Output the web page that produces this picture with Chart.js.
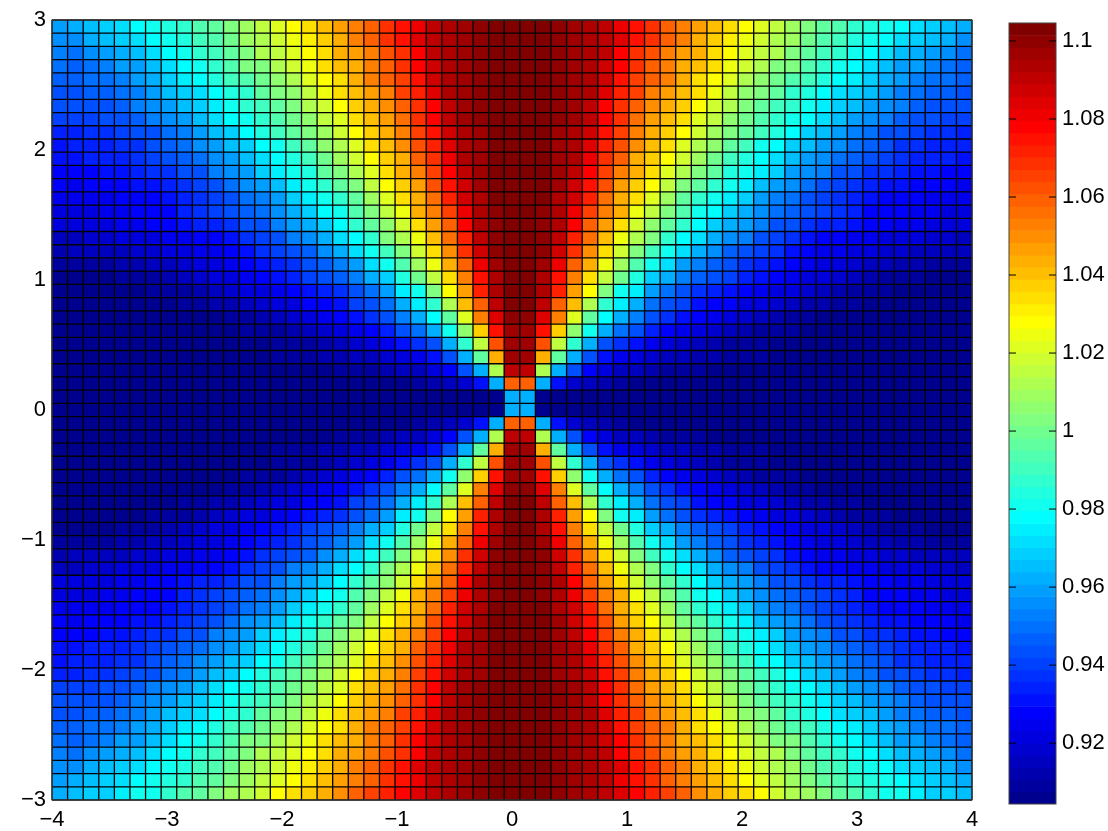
<!DOCTYPE html>
<html>
<head>
<meta charset="utf-8">
<style>
    body { margin: 0; background: #fff; }
    canvas { position: absolute; top: 0; }
</style>
<script src="https://cdn.jsdelivr.net/npm/chart.js@4/dist/chart.umd.js"></script>
</head>
<body>
<canvas id="field-chart" width="990" height="831" style="left:0"></canvas>
<canvas id="colorbar-chart" width="118" height="831" style="left:990px"></canvas>
<script>
// cell edges of the pcolor grid
const xEdges = [-4, -3.8644, -3.7288, -3.5932, -3.4576, -3.3220, -3.1864, -3.0508, -2.9153, -2.7797, -2.6441, -2.5085, -2.3729, -2.2373, -2.1017, -1.9661, -1.8305, -1.6949, -1.5593, -1.4237, -1.2881, -1.1525, -1.0169, -0.8814, -0.7458, -0.6102, -0.4746, -0.3390, -0.2034, -0.0678,
    0.0678, 0.2034, 0.3390, 0.4746, 0.6102, 0.7458, 0.8814, 1.0169, 1.1525, 1.2881, 1.4237, 1.5593, 1.6949, 1.8305, 1.9661, 2.1017, 2.2373, 2.3729, 2.5085, 2.6441, 2.7797, 2.9153, 3.0508, 3.1864, 3.3220, 3.4576, 3.5932, 3.7288, 3.8644, 4];
const yEdges = [-3, -2.8983, -2.7966, -2.6949, -2.5932, -2.4915, -2.3898, -2.2881, -2.1864, -2.0847, -1.9831, -1.8814, -1.7797, -1.6780, -1.5763, -1.4746, -1.3729, -1.2712, -1.1695, -1.0678, -0.9661, -0.8644, -0.7627, -0.6610, -0.5593, -0.4576, -0.3559, -0.2542, -0.1525, -0.0508,
    0.0508, 0.1525, 0.2542, 0.3559, 0.4576, 0.5593, 0.6610, 0.7627, 0.8644, 0.9661, 1.0678, 1.1695, 1.2712, 1.3729, 1.4746, 1.5763, 1.6780, 1.7797, 1.8814, 1.9831, 2.0847, 2.1864, 2.2881, 2.3898, 2.4915, 2.5932, 2.6949, 2.7966, 2.8983, 3];

const xTickValues = [-4, -3, -2, -1, 0, 1, 2, 3, 4];
const yTickValues = [-3, -2, -1, 0, 1, 2, 3];
const colorbarTickValues = [0.92, 0.94, 0.96, 0.98, 1, 1.02, 1.04, 1.06, 1.08, 1.1];

// lower edges of the 64 colormap steps, last entry is the top of the bar
const colorLevels = [0.9044, 0.9075, 0.9107, 0.9138, 0.9169, 0.9200, 0.9232, 0.9263, 0.9294, 0.9326, 0.9357, 0.9388, 0.9419, 0.9451, 0.9482, 0.9513,
    0.9544, 0.9576, 0.9607, 0.9638, 0.9670, 0.9701, 0.9732, 0.9763, 0.9795, 0.9826, 0.9857, 0.9888, 0.9920, 0.9951, 0.9982, 1.0014,
    1.0045, 1.0076, 1.0107, 1.0139, 1.0170, 1.0201, 1.0232, 1.0264, 1.0295, 1.0326, 1.0358, 1.0389, 1.0420, 1.0451, 1.0483, 1.0514,
    1.0545, 1.0576, 1.0608, 1.0639, 1.0670, 1.0702, 1.0733, 1.0764, 1.0795, 1.0827, 1.0858, 1.0889, 1.0920, 1.0952, 1.0983, 1.1014, 1.1046];

// values. The field is symmetric around the middle cell edges,
// so only one quadrant is listed: first row is y = +-3, last row is next to y = 0,
// each row runs from the centre column out to x = -4
const quadrantRows = [
    [1.103,1.103,1.100,1.098,1.095,1.090,1.085,1.078,1.072,1.066,1.058,1.050,1.045,1.038,1.034,1.027,1.020,1.013,1.008,1.002,.998,.995,.987,.982,.981,.975,.970,.968,.966,.962],
    [1.103,1.103,1.100,1.097,1.095,1.090,1.082,1.075,1.067,1.060,1.053,1.047,1.041,1.035,1.028,1.023,1.016,1.010,1.003,.998,.992,.988,.983,.980,.978,.972,.968,.964,.962,.960],
    [1.103,1.103,1.100,1.098,1.095,1.091,1.083,1.075,1.069,1.058,1.052,1.045,1.038,1.030,1.025,1.020,1.013,1.008,1.000,.995,.990,.984,.980,.978,.973,.968,.965,.962,.957,.955],
    [1.103,1.103,1.100,1.098,1.094,1.090,1.078,1.070,1.062,1.053,1.048,1.043,1.034,1.028,1.022,1.016,1.012,1.004,.996,.990,.986,.980,.978,.972,.966,.961,.959,.955,.951,.952],
    [1.103,1.103,1.100,1.097,1.094,1.088,1.078,1.070,1.060,1.054,1.045,1.040,1.033,1.025,1.017,1.012,1.004,1.002,.995,.986,.982,.978,.972,.966,.960,.958,.954,.951,.948,.950],
    [1.103,1.103,1.100,1.097,1.094,1.087,1.075,1.066,1.058,1.052,1.044,1.034,1.028,1.022,1.012,1.007,1.000,.994,.990,.983,.978,.974,.970,.962,.958,.954,.951,.949,.947,.948],
    [1.103,1.103,1.099,1.096,1.092,1.083,1.073,1.064,1.054,1.047,1.040,1.033,1.025,1.016,1.006,1.002,.996,.988,.983,.979,.973,.969,.964,.958,.953,.951,.948,.946,.944,.945],
    [1.103,1.103,1.099,1.096,1.090,1.078,1.070,1.060,1.050,1.044,1.037,1.028,1.018,1.013,1.004,.998,.990,.986,.980,.976,.970,.965,.960,.955,.952,.948,.945,.943,.942,.942],
    [1.103,1.103,1.099,1.096,1.090,1.078,1.068,1.056,1.048,1.040,1.034,1.022,1.015,1.007,1.000,.992,.988,.980,.978,.972,.966,.960,.955,.952,.948,.945,.943,.941,.939,.940],
    [1.103,1.103,1.098,1.095,1.086,1.074,1.064,1.054,1.044,1.037,1.028,1.018,1.009,1.002,.996,.990,.983,.978,.968,.965,.958,.954,.950,.945,.942,.939,.938,.937,.934,.935],
    [1.103,1.103,1.098,1.094,1.084,1.072,1.061,1.050,1.041,1.033,1.022,1.012,1.007,.996,.990,.982,.978,.968,.965,.960,.955,.951,.946,.942,.938,.936,.935,.934,.933,.932],
    [1.103,1.103,1.098,1.093,1.082,1.070,1.059,1.045,1.038,1.028,1.017,1.008,1.000,.990,.983,.978,.972,.965,.960,.955,.950,.946,.943,.939,.936,.935,.934,.933,.931,.930],
    [1.103,1.103,1.097,1.090,1.078,1.066,1.052,1.042,1.033,1.022,1.013,1.003,.996,.985,.980,.974,.968,.960,.956,.952,.945,.942,.938,.936,.933,.932,.930,.929,.928,.928],
    [1.103,1.103,1.096,1.088,1.075,1.061,1.048,1.037,1.028,1.015,1.004,.996,.986,.981,.974,.965,.960,.955,.950,.945,.940,.937,.933,.930,.930,.929,.928,.927,.926,.927],
    [1.103,1.102,1.095,1.087,1.072,1.056,1.045,1.033,1.022,1.009,.998,.988,.981,.975,.967,.960,.954,.949,.945,.940,.937,.934,.930,.929,.928,.927,.926,.925,.925,.925],
    [1.103,1.101,1.092,1.082,1.066,1.052,1.042,1.026,1.014,1.004,.992,.982,.978,.968,.962,.957,.951,.947,.944,.940,.936,.933,.929,.928,.927,.926,.925,.923,.923,.922],
    [1.103,1.100,1.092,1.078,1.060,1.047,1.035,1.017,1.006,.996,.986,.978,.968,.961,.958,.953,.945,.942,.938,.935,.933,.930,.928,.927,.926,.924,.923,.922,.921,.920],
    [1.103,1.100,1.090,1.073,1.055,1.040,1.024,1.012,1.002,.988,.978,.972,.963,.955,.952,.945,.941,.937,.932,.929,.927,.926,.925,.923,.921,.920,.918,.917,.916,.916],
    [1.103,1.100,1.087,1.068,1.050,1.034,1.017,1.004,.990,.980,.971,.961,.955,.948,.943,.940,.936,.931,.929,.926,.924,.922,.920,.918,.917,.916,.915,.914,.914,.913],
    [1.103,1.098,1.082,1.060,1.043,1.026,1.008,.993,.981,.972,.960,.953,.947,.942,.938,.934,.930,.927,.925,.923,.920,.918,.916,.914,.912,.911,.910,.909,.909,.909],
    [1.103,1.095,1.074,1.052,1.035,1.014,.999,.983,.970,.961,.953,.948,.943,.939,.934,.930,.927,.926,.923,.920,.917,.915,.912,.910,.909,.908,.907,.906,.906,.906],
    [1.103,1.092,1.072,1.046,1.027,1.004,.982,.974,.960,.950,.942,.938,.934,.930,.927,.926,.923,.920,.917,.914,.912,.909,.909,.908,.907,.907,.906,.906,.906,.906],
    [1.103,1.090,1.060,1.039,1.013,.986,.975,.962,.950,.945,.940,.932,.929,.927,.923,.920,.917,.915,.913,.912,.910,.908,.907,.907,.906,.906,.906,.906,.906,.906],
    [1.101,1.084,1.052,1.022,.998,.978,.962,.952,.943,.937,.930,.927,.924,.921,.917,.915,.912,.910,.908,.907,.907,.906,.906,.906,.906,.906,.906,.905,.905,.905],
    [1.098,1.076,1.037,1.007,.981,.961,.950,.942,.935,.927,.924,.921,.917,.914,.912,.910,.909,.908,.907,.906,.905,.905,.905,.905,.905,.905,.905,.905,.905,.905],
    [1.098,1.061,1.016,.986,.962,.945,.937,.930,.925,.921,.917,.915,.913,.910,.909,.908,.907,.906,.905,.905,.905,.905,.905,.905,.905,.905,.905,.905,.905,.905],
    [1.096,1.044,.996,.962,.944,.932,.926,.922,.919,.915,.914,.912,.911,.910,.909,.908,.907,.906,.905,.905,.905,.905,.905,.905,.905,.905,.905,.905,.905,.905],
    [1.089,1.012,.962,.943,.927,.920,.916,.914,.912,.910,.909,.908,.907,.906,.905,.905,.905,.905,.905,.905,.905,.905,.905,.905,.905,.905,.905,.905,.905,.905],
    [1.060,.962,.932,.917,.914,.911,.909,.907,.906,.905,.905,.905,.905,.905,.905,.905,.905,.905,.905,.905,.905,.905,.905,.905,.905,.905,.905,.905,.905,.905],
    [.962,.907,.905,.905,.905,.905,.905,.905,.905,.905,.905,.905,.905,.905,.905,.905,.905,.905,.905,.905,.905,.905,.905,.905,.905,.905,.905,.905,.905,.905]
];

const tickFont = { family: '"Liberation Sans", Arial, sans-serif', size: 22 };

// matlab jet colormap, step 0..63
function jetColor(step) {
    const t = (step + 1) / 64;
    const clamp = v => Math.round(255 * Math.max(0, Math.min(1, v)));
    const r = clamp(Math.min(4 * t - 1.5, -4 * t + 4.5));
    const g = clamp(Math.min(4 * t - 0.5, -4 * t + 3.5));
    const b = clamp(Math.min(4 * t + 0.5, -4 * t + 2.5));
    return `rgb(${r},${g},${b})`;
}

function colorForValue(value) {
    let step = 0;
    while (step < 63 && value >= colorLevels[step + 1]) step++;
    return jetColor(step);
}

function minusLabel(value) {
    return value < 0 ? '\u2212' + Math.abs(value) : String(value);
}

// one floating bar per cell, one dataset per row
const fieldDatasets = [];
for (let j = 0; j < yEdges.length - 1; j++) {
    const rowIndex = j <= 29 ? j : 59 - j;
    const points = [];
    const colors = [];
    for (let i = 0; i < xEdges.length - 1; i++) {
        const colIndex = i <= 29 ? 29 - i : i - 30;
        points.push({ x: (xEdges[i] + xEdges[i + 1]) / 2, y: [yEdges[j], yEdges[j + 1]] });
        colors.push(colorForValue(quadrantRows[rowIndex][colIndex]));
    }
    fieldDatasets.push({
        data: points,
        backgroundColor: colors,
        borderWidth: 0,
        grouped: false,
        barPercentage: 1,
        categoryPercentage: 1
    });
}

// black mesh lines of the pcolor cells, drawn on the cell edges
const meshPlugin = {
    id: 'mesh',
    afterDatasetsDraw(chart) {
        const { ctx, chartArea: a, scales } = chart;
        ctx.save();
        ctx.strokeStyle = '#000';
        ctx.lineWidth = 1.3;
        ctx.beginPath();
        xEdges.forEach(v => {
            const x = scales.x.getPixelForValue(v);
            ctx.moveTo(x, a.top);
            ctx.lineTo(x, a.bottom);
        });
        yEdges.forEach(v => {
            const y = scales.y.getPixelForValue(v);
            ctx.moveTo(a.left, y);
            ctx.lineTo(a.right, y);
        });
        ctx.stroke();
        ctx.restore();
    }
};

// grey box round the plot area
const framePlugin = {
    id: 'frame',
    afterDraw(chart) {
        const { ctx, chartArea: a } = chart;
        ctx.save();
        ctx.strokeStyle = '#444';
        ctx.lineWidth = 1;
        ctx.strokeRect(a.left, a.top, a.right - a.left, a.bottom - a.top);
        ctx.restore();
    }
};

// matlab style inward ticks on the colorbar
const inwardTicksPlugin = {
    id: 'inwardTicks',
    afterDraw(chart) {
        const { ctx, chartArea: a, scales } = chart;
        ctx.save();
        ctx.strokeStyle = '#000';
        ctx.lineWidth = 1;
        colorbarTickValues.forEach(v => {
            const y = scales.y.getPixelForValue(v);
            ctx.beginPath();
            ctx.moveTo(a.left, y);
            ctx.lineTo(a.left + 7, y);
            ctx.moveTo(a.right - 7, y);
            ctx.lineTo(a.right, y);
            ctx.stroke();
        });
        ctx.restore();
    }
};

new Chart(document.getElementById('field-chart').getContext('2d'), {
    type: 'bar',
    data: { datasets: fieldDatasets },
    options: {
        responsive: false,
        animation: false,
        layout: { padding: { top: 20, right: 18, left: 0, bottom: 0 } },
        plugins: { legend: { display: false }, tooltip: { enabled: false } },
        scales: {
            x: {
                type: 'linear',
                offset: false,
                min: -4,
                max: 4,
                grid: { display: false, drawTicks: false, tickLength: 0 },
                border: { display: false },
                afterBuildTicks: scale => { scale.ticks = xTickValues.map(v => ({ value: v })); },
                afterFit: scale => { scale.height = 31; },
                ticks: { font: tickFont, color: '#000', padding: 7, autoSkip: false, maxRotation: 0, callback: minusLabel }
            },
            y: {
                type: 'linear',
                min: -3,
                max: 3,
                grid: { display: false, drawTicks: false, tickLength: 0 },
                border: { display: false },
                afterBuildTicks: scale => { scale.ticks = yTickValues.map(v => ({ value: v })); },
                afterFit: scale => { scale.width = 52; },
                ticks: { font: tickFont, color: '#000', padding: 6, autoSkip: false, callback: minusLabel }
            }
        }
    },
    plugins: [meshPlugin, framePlugin]
});

const colorbarPoints = [];
const colorbarColors = [];
for (let k = 0; k < colorLevels.length - 1; k++) {
    colorbarPoints.push({ x: 'jet', y: [colorLevels[k], colorLevels[k + 1]] });
    colorbarColors.push(jetColor(k));
}

new Chart(document.getElementById('colorbar-chart').getContext('2d'), {
    type: 'bar',
    data: {
        labels: ['jet'],
        datasets: [{
            data: colorbarPoints,
            backgroundColor: colorbarColors,
            borderWidth: 0,
            grouped: false,
            barPercentage: 1,
            categoryPercentage: 1
        }]
    },
    options: {
        responsive: false,
        animation: false,
        layout: { padding: { top: 23, left: 19, right: 0, bottom: 27 } },
        plugins: { legend: { display: false }, tooltip: { enabled: false } },
        scales: {
            x: { display: false },
            y: {
                type: 'linear',
                min: colorLevels[0],
                max: colorLevels[colorLevels.length - 1],
                grid: { display: false, drawTicks: false, tickLength: 0 },
                border: { display: false },
                afterBuildTicks: scale => { scale.ticks = colorbarTickValues.map(v => ({ value: v })); },
                afterFit: scale => { scale.width = 52; },
                position: 'right',
                ticks: { font: tickFont, color: '#000', padding: 6, autoSkip: false, callback: v => String(v) }
            }
        }
    },
    plugins: [framePlugin, inwardTicksPlugin]
});
</script>
</body>
</html>
